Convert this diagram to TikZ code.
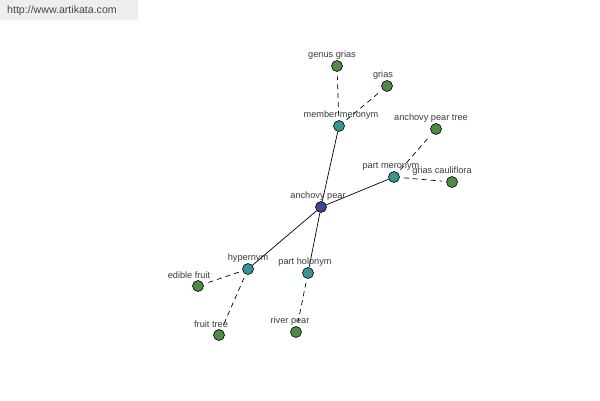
\documentclass[tikz,border=0pt]{standalone}
\usepackage{fontspec}
\setmainfont{Liberation Sans}
\begin{document}
\begin{tikzpicture}[x=1pt,y=-1pt,
  dot/.style={circle,draw=black,line width=0.6pt,minimum size=11pt,inner sep=0pt},
  hub/.style={dot,fill=hubc},
  rel/.style={dot,fill=relc},
  leaf/.style={dot,fill=leafc},
  lbl/.style={font=\fontsize{9.2}{10}\selectfont,text=labc,inner sep=0pt},
  solidl/.style={draw=black,line width=0.7pt},
  dashl/.style={draw=black,line width=0.7pt,dash pattern=on 5pt off 4pt,shorten <=4pt,shorten >=4pt}]
\definecolor{hubc}{RGB}{62,72,145}
\definecolor{relc}{RGB}{58,148,150}
\definecolor{leafc}{RGB}{78,140,68}
\definecolor{labc}{RGB}{60,60,60}
\definecolor{hdr}{RGB}{238,238,238}
\definecolor{hdrt}{RGB}{60,80,60}
\useasboundingbox (0,0) rectangle (600,400);
\fill[white] (0,0) rectangle (600,400);
\fill[hdr] (0,0) rectangle (138,20);
\node[font=\fontsize{10.6}{12}\selectfont,text=hdrt,anchor=west,inner sep=0pt] (url) at (7,11) {http://www.artikata.com};
% nodes
\node[hub] (ap) at (321,207) {};
\node[rel] (mm) at (339,126) {};
\node[rel] (pm) at (394,177) {};
\node[rel] (hy) at (248,269) {};
\node[rel] (ph) at (308,273) {};
\node[leaf] (gg) at (337,66) {};
\node[leaf] (gr) at (387,86) {};
\node[leaf] (apt) at (436,129) {};
\node[leaf] (gc) at (452,182) {};
\node[leaf] (ef) at (198,286) {};
\node[leaf] (ft) at (219,335) {};
\node[leaf] (rp) at (296,332) {};
% edges
\draw[solidl] (ap) -- (mm);
\draw[solidl] (ap) -- (pm);
\draw[solidl] (ap) -- (hy);
\draw[solidl] (ap) -- (ph);
\draw[dashl] (mm) -- (gg);
\draw[dashl] (mm) -- (gr);
\draw[dashl] (pm) -- (apt);
\draw[dashl] (pm) -- (gc);
\draw[dashl] (hy) -- (ef);
\draw[dashl] (hy) -- (ft);
\draw[dashl] (ph) -- (rp);
% labels
\node[lbl] (lap) at (318,196) {anchovy pear};
\node[lbl] (lmm) at (341,115) {member meronym};
\node[lbl] (lpm) at (391,166) {part meronym};
\node[lbl] (lhy) at (248,258) {hypernym};
\node[lbl] (lph) at (305,262) {part holonym};
\node[lbl] (lgg) at (332,55) {genus grias};
\node[lbl] (lgr) at (383,75) {grias};
\node[lbl] (lapt) at (431,118) {anchovy pear tree};
\node[lbl] (lgc) at (442,171) {grias cauliflora};
\node[lbl] (lef) at (189,275) {edible fruit};
\node[lbl] (lft) at (211,324) {fruit tree};
\node[lbl] (lrp) at (290,321) {river pear};
\end{tikzpicture}
\end{document}
